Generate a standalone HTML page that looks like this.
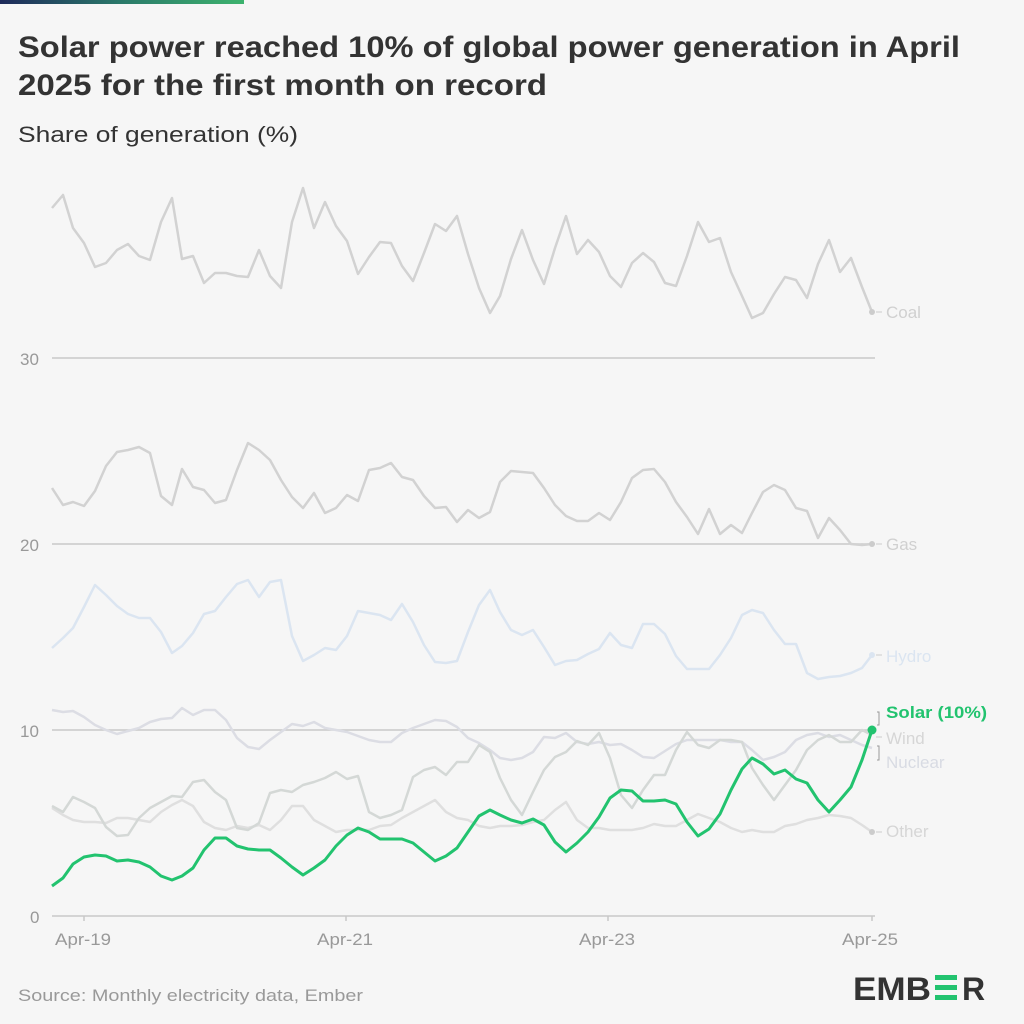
<!DOCTYPE html>
<html><head><meta charset="utf-8"><style>
html,body{margin:0;padding:0;background:#f6f6f6;}
svg{display:block;font-family:"Liberation Sans",sans-serif;}
</style></head><body>
<svg width="1024" height="1024" viewBox="0 0 1024 1024" xmlns="http://www.w3.org/2000/svg">
<defs><linearGradient id="g" x1="0" x2="1"><stop offset="0" stop-color="#1e2a5a"/><stop offset="0.5" stop-color="#2b7a6a"/><stop offset="1" stop-color="#3db36e"/></linearGradient></defs>
<rect width="1024" height="1024" fill="#f6f6f6"/>
<rect x="0" y="0" width="244" height="4" fill="url(#g)"/>
<text x="18" y="57" font-size="30" font-weight="bold" fill="#333" textLength="942" lengthAdjust="spacingAndGlyphs">Solar power reached 10% of global power generation in April</text>
<text x="18" y="95" font-size="30" font-weight="bold" fill="#333" textLength="529" lengthAdjust="spacingAndGlyphs">2025 for the first month on record</text>
<text x="18" y="142" font-size="22" fill="#333" textLength="280" lengthAdjust="spacingAndGlyphs">Share of generation (%)</text>
<g stroke="#c8c8c8" stroke-width="1.5">
<line x1="52" y1="358" x2="875" y2="358"/><line x1="52" y1="544" x2="875" y2="544"/><line x1="52" y1="730" x2="875" y2="730"/><line x1="52" y1="916" x2="875" y2="916"/>
<line x1="84" y1="916" x2="84" y2="921"/><line x1="346" y1="916" x2="346" y2="921"/><line x1="608" y1="916" x2="608" y2="921"/><line x1="872" y1="916" x2="872" y2="921"/>
</g>
<g font-size="17" fill="#999"><text x="20" y="365">30</text><text x="20" y="551">20</text><text x="20" y="737">10</text><text x="30" y="923">0</text>
<text x="55" y="945" textLength="56" lengthAdjust="spacingAndGlyphs">Apr-19</text><text x="317" y="945" textLength="56" lengthAdjust="spacingAndGlyphs">Apr-21</text><text x="579" y="945" textLength="56" lengthAdjust="spacingAndGlyphs">Apr-23</text><text x="842" y="945" textLength="56" lengthAdjust="spacingAndGlyphs">Apr-25</text></g>
<g fill="none" stroke-width="2.5" stroke-linejoin="round">
<polyline stroke="#d2d2d2" points="52,208 63,195 73,228 84,243 95,267 106,263 117,250 128,244 139,256 150,260 161,222 172,198 182,259 193,256 204,283 215,273 226,273 237,276 248,277 259,250 270,276 281,288 292,222 303,188 314,228 325,202 336,226 347,241 358,274 369,257 380,242 391,243 402,266 413,281 424,253 435,224 446,231 457,216 468,254 479,288 490,313 500,296 511,259 522,230 533,260 544,284 555,248 566,216 577,254 588,240 599,252 610,276 621,287 632,263 643,253 654,262 665,283 676,286 687,256 698,222 709,242 720,238 731,272 742,296 752,318 763,313 774,294 785,277 796,280 807,298 818,264 829,240 840,272 851,258 862,287 872,312"/>
<polyline stroke="#d2d2d2" points="52,488 63,505 73,502 84,506 95,491 106,466 117,452 128,450 139,447 150,453 161,496 172,505 182,469 193,487 204,490 215,503 226,500 237,470 248,443 259,450 270,460 281,480 292,497 303,508 314,493 325,513 336,508 347,495 358,501 369,470 380,468 391,463 402,477 413,480 424,496 435,508 446,507 457,522 468,510 479,518 490,512 500,482 511,471 522,472 533,473 544,488 555,505 566,516 577,521 588,521 599,513 610,520 621,502 632,478 643,470 654,469 665,482 676,502 687,517 698,534 709,509 720,534 731,525 742,533 752,513 763,492 774,485 785,490 796,508 807,511 818,538 829,518 840,530 851,544 862,545 872,544"/>
<polyline stroke="#dbe5f1" points="52,648 63,638 73,628 84,607 95,585 106,595 117,606 128,614 139,618 150,618 161,632 172,653 182,646 193,633 204,614 215,611 226,597 237,584 248,580 259,597 270,582 281,580 292,636 303,661 314,655 325,648 336,650 347,636 358,611 369,613 380,615 391,620 402,604 413,622 424,645 435,662 446,663 457,661 468,632 479,605 490,590 500,612 511,630 522,635 533,630 544,647 555,665 566,661 577,660 588,654 599,649 610,633 621,645 632,648 643,624 654,624 665,634 676,656 687,669 698,669 709,669 720,655 731,638 742,615 752,610 763,613 774,630 785,644 796,644 807,673 818,679 829,677 840,676 851,673 862,668 872,655"/>
<polyline stroke="#dcdde4" points="52,710 63,712 73,711 84,717 95,725 106,730 117,734 128,731 139,728 150,722 161,719 172,718 182,708 193,715 204,710 215,710 226,720 237,738 248,747 259,749 270,740 281,732 292,724 303,726 314,722 325,728 336,730 347,732 358,736 369,740 380,742 391,742 402,733 413,728 424,724 435,720 446,721 457,727 468,738 479,743 490,750 500,758 511,760 522,758 533,752 544,737 555,738 566,733 577,742 588,744 599,742 610,745 621,744 632,750 643,757 654,758 665,751 676,744 687,740 698,740 709,740 720,740 731,742 742,742 752,750 763,760 774,757 785,752 796,740 807,735 818,733 829,737 840,735 851,740 862,745 872,748"/>
<polyline stroke="#dfdfdf" points="52,808 63,815 73,820 84,822 95,822 106,823 117,818 128,818 139,820 150,822 161,812 172,805 182,800 193,806 204,822 215,828 226,830 237,826 248,828 259,825 270,830 281,820 292,806 303,806 314,820 325,826 336,832 347,830 358,830 369,830 380,826 391,825 402,818 413,812 424,806 435,800 446,812 457,818 468,820 479,826 490,828 500,826 511,826 522,825 533,822 544,820 555,810 566,802 577,820 588,828 599,828 610,830 621,830 632,830 643,828 654,824 665,826 676,826 687,820 698,814 709,818 720,822 731,828 742,832 752,830 763,832 774,832 785,826 796,824 807,820 818,818 829,815 840,816 851,818 862,825 872,832"/>
<polyline stroke="#d4d8d6" points="52,806 63,812 73,797 84,802 95,808 106,827 117,836 128,835 139,818 150,808 161,802 172,796 182,797 193,782 204,780 215,792 226,800 237,828 248,830 259,823 270,793 281,790 292,792 303,785 314,782 325,778 336,772 347,779 358,776 369,812 380,818 391,815 402,810 413,777 424,770 435,767 446,775 457,762 468,762 479,745 490,752 500,778 511,800 522,815 533,792 544,770 555,757 566,752 577,741 588,745 599,733 610,758 621,795 632,808 643,790 654,775 665,775 676,750 687,732 698,745 709,748 720,740 731,740 742,742 752,768 763,785 774,800 785,785 796,770 807,750 818,740 829,735 840,742 851,742 862,730 872,735"/>
<polyline stroke="#22c36f" stroke-width="3" points="52,886 63,878 73,864 84,857 95,855 106,856 117,861 128,860 139,862 150,867 161,876 172,880 182,876 193,868 204,850 215,838 226,838 237,846 248,849 259,850 270,850 281,858 292,867 303,875 314,868 325,860 336,846 347,835 358,828 369,832 380,839 391,839 402,839 413,843 424,852 435,861 446,856 457,848 468,832 479,816 490,810 500,815 511,820 522,823 533,819 544,825 555,842 566,852 577,843 588,832 599,817 610,798 621,790 632,791 643,801 654,801 665,800 676,804 687,822 698,836 709,829 720,814 731,790 742,769 752,758 763,764 774,774 785,770 796,779 807,783 818,800 829,812 840,800 851,787 862,760 872,730"/>
</g>
<g fill="#ccc"><circle cx="872" cy="312" r="3"/><circle cx="872" cy="544" r="3"/><circle cx="872" cy="655" r="3" fill="#dbe5f1"/><circle cx="872" cy="832" r="3"/></g>
<circle cx="872" cy="730" r="4.5" fill="#22c36f"/>
<g stroke="#999" stroke-width="1" fill="none"><path d="M877,712 L879,712 L879,725 L877,725"/><path d="M877,746 L879,746 L879,760 L877,760"/><path d="M876,312 L882,312 M876,544 L882,544 M876,655 L882,655 M876,832 L882,832 M876,737 L882,737" stroke="#ccc"/></g>
<g font-size="17"><text x="886" y="318" fill="#d0d0d0">Coal</text><text x="886" y="550" fill="#d0d0d0">Gas</text><text x="886" y="662" fill="#dbe5f1">Hydro</text>
<text x="886" y="718" fill="#22c36f" font-weight="bold" textLength="101" lengthAdjust="spacingAndGlyphs">Solar (10%)</text><text x="886" y="744" fill="#d6d6d6">Wind</text><text x="886" y="768" fill="#d8dbe3">Nuclear</text><text x="886" y="837" fill="#d6d6d6">Other</text></g>
<text x="18" y="1001" font-size="17" fill="#999" textLength="345" lengthAdjust="spacingAndGlyphs">Source: Monthly electricity data, Ember</text>
<g font-size="32" font-weight="bold" fill="#333"><text x="853" y="1000" textLength="78" lengthAdjust="spacingAndGlyphs">EMB</text><text x="962" y="1000">R</text></g>
<g fill="#22c36f"><rect x="935" y="975" width="22" height="5"/><rect x="935" y="985" width="22" height="5"/><rect x="935" y="995" width="22" height="5"/></g>
</svg>
</body></html>
